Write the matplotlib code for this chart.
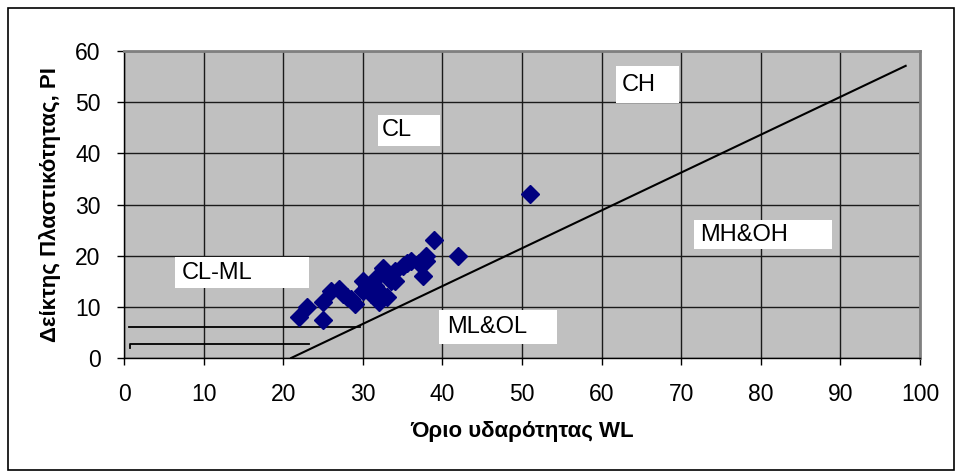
import matplotlib
matplotlib.use("Agg")
import matplotlib.pyplot as plt
from matplotlib.patches import Rectangle

plt.rcParams['font.family'] = ['Liberation Sans', 'DejaVu Sans']

# Data: liquid limit (WL) and plasticity index (PI)
wl = [22, 23, 25, 25, 26, 27, 27.5, 28, 29, 28.5, 30, 30, 30.5, 31, 31.5, 31.5,
      32, 32, 32.5, 33, 33, 33.5, 34, 34, 35, 35.5, 36, 37, 37.5, 38, 38, 39, 42, 51]
pi = [8, 10, 7.5, 11, 13, 13.5, 12.5, 12, 10.5, 11.5, 15, 13, 14, 12.5, 14, 15.5,
      11, 13, 17.5, 12, 16, 15, 17, 15, 18, 18.5, 19, 18.5, 16, 19, 20, 23, 20, 32]

# A-line
aline_x = [21, 98.2]
aline_y = [0, 57.1]
# CL-ML boundary lines
upper_x = [0.6, 29.6]
upper_y = [6.1, 6.1]
lower_x = [0.7, 0.7, 23.2]
lower_y = [1.9, 2.7, 2.7]

# Region labels: (text, box x0, x1, y0, y1, text x, text y)
labels = [
    ("CH", 61.8, 69.7, 49.8, 57.0, 62.5, 53.4),
    ("CL", 31.9, 39.7, 41.4, 47.5, 32.4, 44.5),
    ("CL-ML", 6.4, 23.2, 13.7, 19.7, 7.3, 16.7),
    ("ML&OL", 39.6, 54.4, 2.7, 9.4, 40.6, 6.0),
    ("MH&OH", 71.6, 88.9, 21.3, 27.0, 72.4, 24.0),
]

xticks = list(range(0, 101, 10))
yticks = list(range(0, 61, 10))

fig = plt.figure(figsize=(9.6, 4.75), dpi=100)
fig.patches.append(Rectangle((8 / 960, 5 / 475), 946 / 960, 462 / 475,
                             transform=fig.transFigure, fill=False,
                             edgecolor='black', linewidth=1.2))
ax = fig.add_axes([124 / 960, 1 - 358 / 475, 796 / 960, 307 / 475])
ax.set_facecolor('#C0C0C0')
ax.set_xlim(0, 100)
ax.set_ylim(0, 60)
ax.set_xticks(xticks)
ax.set_yticks(yticks)
ax.grid(True, color='#1a1a1a', linewidth=1.0)
ax.set_axisbelow(True)

for s in ['top', 'right']:
    ax.spines[s].set_color('#808080')
    ax.spines[s].set_linewidth(2)
for s in ['left', 'bottom']:
    ax.spines[s].set_color('black')
    ax.spines[s].set_linewidth(1)

ax.tick_params(axis='both', direction='out', length=5, width=1, labelsize=16.5,
               color='black')
ax.tick_params(axis='x', pad=13)
ax.tick_params(axis='y', pad=12)

ax.plot(aline_x, aline_y, color='black', linewidth=1.5, zorder=3)
ax.plot(upper_x, upper_y, color='black', linewidth=1.3, zorder=3)
ax.plot(lower_x, lower_y, color='black', linewidth=1.3, zorder=3)

for txt, x0, x1, y0, y1, tx, ty in labels:
    ax.add_patch(Rectangle((x0, y0), x1 - x0, y1 - y0, facecolor='white',
                           edgecolor='none', zorder=4))
    ax.text(tx, ty, txt, fontsize=17, ha='left', va='center', zorder=5)

ax.plot(wl, pi, linestyle='none', marker='D', markersize=9,
        color='#000080', markeredgecolor='#000080', zorder=6, clip_on=False)

ax.set_xlabel('Όριο υδαρότητας WL', fontsize=16, fontweight='bold', labelpad=11)
ax.set_ylabel('Δείκτης Πλαστικότητας, PI', fontsize=16, fontweight='bold',
              labelpad=10)

fig.savefig('out.png', dpi=100)
